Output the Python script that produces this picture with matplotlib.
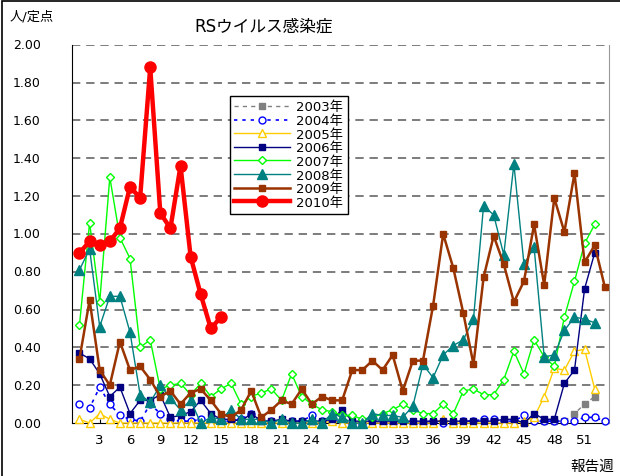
import matplotlib
matplotlib.use("Agg")
import matplotlib.pyplot as plt
from matplotlib.patches import Rectangle
from matplotlib.transforms import blended_transform_factory

plt.rcParams["font.family"] = ["DejaVu Sans", "Noto Sans CJK JP"]

# weekly values (人/定点)
y2003_start = 45
y2003 = [0.00, 0.02, 0.01, 0.01, 0.01, 0.05, 0.10, 0.14]
y2004 = [0.10, 0.08, 0.19, 0.10, 0.04, 0.02, 0.01, 0.10, 0.05, 0.02,
         0.01, 0.01, 0.02, 0.01, 0.01, 0.01, 0.02, 0.05, 0.01, 0.01,
         0.01, 0.01, 0.01, 0.04, 0.01, 0.01, 0.01, 0.00, 0.00, 0.01,
         0.00, 0.00, 0.01, 0.00, 0.00, 0.01, 0.00, 0.00, 0.01, 0.01,
         0.02, 0.02, 0.01, 0.01, 0.04, 0.01, 0.01, 0.01, 0.01, 0.01,
         0.03, 0.03, 0.01]
y2005 = [0.02, 0.00, 0.05, 0.02, 0.00, 0.00, 0.00, 0.00, 0.00, 0.00,
         0.00, 0.00, 0.00, 0.00, 0.00, 0.00, 0.00, 0.00, 0.00, 0.00,
         0.00, 0.00, 0.00, 0.00, 0.00, 0.01, 0.00, 0.00, 0.00, 0.00,
         0.00, 0.00, 0.00, 0.00, 0.00, 0.00, 0.02, 0.00, 0.00, 0.00,
         0.00, 0.00, 0.00, 0.00, 0.01, 0.03, 0.14, 0.29, 0.28, 0.38,
         0.39, 0.18]
y2006 = [0.37, 0.34, 0.26, 0.14, 0.19, 0.05, 0.12, 0.12, 0.15, 0.03,
         0.04, 0.06, 0.12, 0.05, 0.02, 0.02, 0.01, 0.05, 0.01, 0.01,
         0.02, 0.01, 0.01, 0.01, 0.01, 0.02, 0.07, 0.01, 0.01, 0.01,
         0.01, 0.01, 0.01, 0.01, 0.01, 0.01, 0.01, 0.01, 0.01, 0.01,
         0.01, 0.01, 0.02, 0.02, 0.00, 0.05, 0.02, 0.02, 0.21, 0.28,
         0.71, 0.90]
y2007 = [0.52, 1.06, 0.64, 1.30, 0.98, 0.87, 0.40, 0.44, 0.18, 0.20,
         0.21, 0.15, 0.21, 0.14, 0.18, 0.21, 0.10, 0.14, 0.16, 0.18,
         0.12, 0.26, 0.14, 0.10, 0.07, 0.06, 0.04, 0.04, 0.02, 0.03,
         0.05, 0.07, 0.10, 0.07, 0.05, 0.05, 0.10, 0.05, 0.17, 0.18,
         0.15, 0.15, 0.23, 0.38, 0.26, 0.44, 0.35, 0.30, 0.56, 0.75,
         0.95, 1.05]
y2008 = [0.81, 0.92, 0.51, 0.67, 0.67, 0.48, 0.15, 0.11, 0.20, 0.13,
         0.07, 0.12, 0.00, 0.03, 0.02, 0.07, 0.02, 0.02, 0.02, 0.00,
         0.02, 0.00, 0.00, 0.02, 0.00, 0.05, 0.03, 0.00, 0.00, 0.05,
         0.04, 0.04, 0.03, 0.09, 0.31, 0.24, 0.36, 0.41, 0.44, 0.55,
         1.15, 1.10, 0.89, 1.37, 0.84, 0.93, 0.35, 0.36, 0.49, 0.56,
         0.55, 0.53]
y2009 = [0.34, 0.65, 0.28, 0.20, 0.43, 0.28, 0.30, 0.23, 0.14, 0.17,
         0.10, 0.16, 0.18, 0.12, 0.05, 0.03, 0.07, 0.17, 0.03, 0.07,
         0.12, 0.10, 0.18, 0.10, 0.14, 0.12, 0.12, 0.28, 0.28, 0.33,
         0.28, 0.36, 0.17, 0.33, 0.33, 0.62, 1.00, 0.82, 0.58, 0.31,
         0.77, 0.99, 0.84, 0.64, 0.75, 1.05, 0.73, 1.19, 1.01, 1.32,
         0.85, 0.94, 0.72]
y2010 = [0.90, 0.96, 0.94, 0.96, 1.03, 1.25, 1.19, 1.88, 1.11, 1.03,
         1.36, 0.88, 0.68, 0.50, 0.56]

x_ticks = list(range(3, 52, 3))
y_ticks = [i * 0.2 for i in range(11)]


def weeks(values, start=1):
    return list(range(start, start + len(values)))


fig = plt.figure(figsize=(6.2, 4.77), dpi=100)
ax = fig.add_axes([0.116, 0.111, 0.866, 0.793])

styles = [
    ("2003年", weeks(y2003, y2003_start), y2003,
     dict(color="#808080", ls=(0, (3, 3)), lw=1.0, marker="s", ms=5, mfc="#808080", mec="#808080")),
    ("2004年", weeks(y2004), y2004,
     dict(color="#0000ff", ls=(0, (2, 3)), lw=1.2, marker="o", ms=5, mfc="white", mec="#0000ff", mew=1.0)),
    ("2005年", weeks(y2005), y2005,
     dict(color="#ffcc00", ls="-", lw=1.0, marker="^", ms=6, mfc="white", mec="#ffcc00", mew=1.0)),
    ("2006年", weeks(y2006), y2006,
     dict(color="#000080", ls="-", lw=1.0, marker="s", ms=5, mfc="#000080", mec="#000080")),
    ("2007年", weeks(y2007), y2007,
     dict(color="#00ff00", ls="-", lw=1.0, marker="D", ms=4.5, mfc="white", mec="#00ff00", mew=1.0)),
    ("2008年", weeks(y2008), y2008,
     dict(color="#008080", ls="-", lw=1.0, marker="^", ms=7, mfc="#008080", mec="#008080")),
    ("2009年", weeks(y2009), y2009,
     dict(color="#993300", ls="-", lw=1.8, marker="s", ms=5, mfc="#993300", mec="#993300")),
    ("2010年", weeks(y2010), y2010,
     dict(color="#ff0000", ls="-", lw=3.2, marker="o", ms=8, mfc="#ff0000", mec="#ff0000")),
]

for z, (label, xs, ys, kw) in enumerate(styles):
    ax.plot(xs, ys, label=label, zorder=3 + z, clip_on=False, **kw)

ax.set_xlim(0.25, 53.4)
ax.set_ylim(0, 2.0)
ax.set_xticks(x_ticks)
ax.set_yticks(y_ticks)
ax.set_yticklabels([])
ax.tick_params(axis="y", length=0)
ax.tick_params(axis="x", labelsize=9.5, pad=7, length=3, direction="in")

# y labels sit well left of the axis, like the original
ytrans = blended_transform_factory(ax.transAxes, ax.transData)
for v in y_ticks:
    ax.text(-0.058, v, f"{v:.2f}", transform=ytrans, ha="right", va="center", fontsize=9)

for v in y_ticks[1:]:
    ax.axhline(v, color="#666666", lw=1.2, ls=(0, (5, 3.5)), zorder=1)

ax.spines["top"].set_visible(False)
ax.spines["right"].set_color("#999999")
ax.spines["left"].set_color("black")
ax.spines["bottom"].set_color("black")
ax.spines["bottom"].set_zorder(2)

leg = ax.legend(loc="upper left", bbox_to_anchor=(0.294, 0.865), fontsize=9.5,
                frameon=True, fancybox=False, edgecolor="black", framealpha=1,
                handlelength=4.2, labelspacing=0.05, borderpad=0.35,
                handletextpad=0.5, borderaxespad=0)
leg.get_frame().set_linewidth(1.0)
leg.set_zorder(20)

fig.text(264 / 620, 1 - 27 / 477, "RSウイルス感染症", ha="center", va="center", fontsize=12)
fig.text(10 / 620, 1 - 17 / 477, "人/定点", ha="left", va="center", fontsize=9.5)
fig.text(570 / 620, 1 - 466 / 477, "報告週", ha="left", va="center", fontsize=10.5)

fig.patches.append(Rectangle((2 / 620, -0.1), 1.1, 1.1 - 2 / 477, transform=fig.transFigure,
                             fill=False, edgecolor="black", lw=1.2))

fig.savefig("out.png", dpi=100)
